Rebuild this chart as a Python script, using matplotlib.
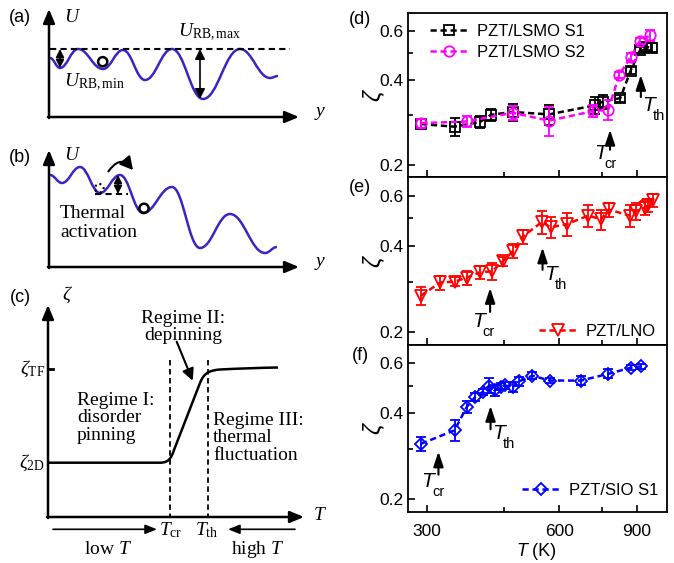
import matplotlib.pyplot as plt
from matplotlib.path import Path
from matplotlib.patches import PathPatch, Circle
from matplotlib.ticker import FixedLocator, FormatStrFormatter, NullFormatter

plt.rcParams['font.family'] = ['Liberation Sans', 'DejaVu Sans']
plt.rcParams['mathtext.fontset'] = 'custom'
plt.rcParams['mathtext.rm'] = 'Liberation Serif'
plt.rcParams['mathtext.it'] = 'Liberation Serif:italic'

# ---- measured roughness exponent vs temperature ----
T_s1 = [291, 347, 397, 420, 470, 569, 722, 753, 826, 872, 916, 945, 973]
z_s1 = [0.279, 0.273, 0.284, 0.301, 0.308, 0.302, 0.325, 0.335, 0.345, 0.432, 0.511, 0.525, 0.522]
e_s1 = [0.012, 0.02, 0.015, 0.014, 0.022, 0.025, 0.022, 0.02, 0.01, 0.012, 0.012, 0.015, 0.02]

T_s2 = [291, 370, 470, 569, 717, 776, 822, 873, 916, 966]
z_s2 = [0.281, 0.285, 0.306, 0.287, 0.310, 0.314, 0.418, 0.484, 0.552, 0.577]
e_s2 = [0.01, 0.012, 0.018, 0.035, 0.015, 0.025, 0.01, 0.015, 0.015, 0.025]

T_lno = [291, 322, 347, 370, 397, 422, 447, 472, 496, 548, 574, 624, 699, 747, 777, 868, 897, 938, 955, 979]
z_lno = [0.268, 0.298, 0.300, 0.310, 0.324, 0.326, 0.354, 0.385, 0.432, 0.485, 0.465, 0.477,
         0.511, 0.496, 0.537, 0.511, 0.530, 0.545, 0.555, 0.580]
e_lno = [0.019, 0.017, 0.011, 0.017, 0.017, 0.023, 0.013, 0.022, 0.024, 0.045, 0.04, 0.045,
         0.045, 0.04, 0.03, 0.045, 0.035, 0.03, 0.03, 0.03]

T_sio = [291, 347, 370, 387, 402, 416, 428, 443, 451, 470, 487, 521, 572, 672, 776, 872, 923]
z_sio = [0.312, 0.348, 0.421, 0.457, 0.475, 0.50, 0.481, 0.496, 0.501, 0.493, 0.518, 0.542,
         0.521, 0.521, 0.55, 0.578, 0.585]
e_sio = [0.018, 0.03, 0.02, 0.015, 0.012, 0.03, 0.02, 0.015, 0.015, 0.02, 0.02, 0.015,
         0.01, 0.02, 0.02, 0.012, 0.012]

# arrow positions (T, tip, tail) and label anchors for the crossover temperatures
tcr_marks = [(783, 0.266, 0.226, 743, 0.219), (418, 0.285, 0.235, 393, 0.217), (319, 0.293, 0.243, 302, 0.229)]
tth_marks = [(920, 0.417, 0.348, 957, 0.324), (550, 0.395, 0.330, 572, 0.318), (419, 0.424, 0.351, 437, 0.339)]

# ---- schematic energy landscapes (extrema of the sketched curves) ----
land_a_x = [50, 60, 78, 103, 123, 145, 172, 203, 240, 270, 278]
land_a_y = [58, 68, 49, 69, 50, 80, 49, 99, 49, 78, 76]
land_b_x = [50, 62, 80, 100, 120, 143, 172, 200, 230, 265, 277]
land_b_y = [175, 183, 167, 193, 175, 213, 187, 248, 214, 253, 247]

LANDSCAPE = '#3f22c2'

fig = plt.figure(figsize=(6.74, 5.63), dpi=100)

ov = fig.add_axes([0, 0, 1, 1])
ov.set_xlim(0, 674)
ov.set_ylim(563, 0)
ov.axis('off')


def landscape(xs, ys):
    verts = [(xs[0], ys[0])]
    codes = [Path.MOVETO]
    for i in range(1, len(xs)):
        d = (xs[i] - xs[i - 1]) * 0.4
        verts += [(xs[i - 1] + d, ys[i - 1]), (xs[i] - d, ys[i]), (xs[i], ys[i])]
        codes += [Path.CURVE4] * 3
    return Path(verts, codes)


def arrow(ax, x0, y0, x1, y1, lw=1.8, style='-|>,head_length=0.6,head_width=0.25', ms=14):
    ax.annotate('', xy=(x1, y1), xytext=(x0, y0),
                arrowprops=dict(arrowstyle=style, lw=lw, color='k', shrinkA=0, shrinkB=0,
                                mutation_scale=ms))


serif = dict(family='Liberation Serif', fontsize=14)

# (a)
ov.text(20, 18, '(a)', fontsize=13, ha='center', va='center')
arrow(ov, 49, 118, 49, 9)
arrow(ov, 48, 117, 299, 117)
ov.text(64, 17, '$U$', ha='left', va='center', **serif)
ov.text(314, 114, '$y$', ha='left', va='center', **serif)
ov.add_patch(PathPatch(landscape(land_a_x, land_a_y), fill=False, color=LANDSCAPE, lw=1.8))
ov.plot([50, 290], [49, 49], color='k', lw=1.5, dashes=(3, 2))
ov.add_patch(Circle((102.7, 61.7), 4.6, fill=False, lw=1.8, color='k'))
arrow(ov, 60, 49, 60, 68, lw=1.2, style='<|-|>,head_length=0.4,head_width=0.2', ms=12)
arrow(ov, 200, 49, 200, 99, lw=1.2, style='<|-|>,head_length=0.5,head_width=0.25', ms=12)
ov.text(178, 32, r'$U_{\rm RB,max}$', ha='left', va='center', **serif)
ov.text(64, 82, r'$U_{\rm RB,min}$', ha='left', va='center', **serif)

# (b)
ov.text(20, 158, '(b)', fontsize=13, ha='center', va='center')
arrow(ov, 49, 268, 49, 150)
arrow(ov, 48, 267, 299, 267)
ov.text(64, 156, '$U$', ha='left', va='center', **serif)
ov.text(314, 264, '$y$', ha='left', va='center', **serif)
ov.add_patch(PathPatch(landscape(land_b_x, land_b_y), fill=False, color=LANDSCAPE, lw=1.8))
ov.plot([95, 128], [194, 194], color='k', lw=1.5, dashes=(3, 2))
ov.add_patch(Circle((99.3, 188.3), 4.3, fill=False, lw=1.5, ls=':', color='k'))
ov.add_patch(Circle((144, 208.3), 4.6, fill=False, lw=1.8, color='k'))
arrow(ov, 118, 194, 118, 175, lw=1.2, style='<|-|>,head_length=0.4,head_width=0.2', ms=12)
# hop over the barrier: arc plus a head at its right end
hop = Path([(108, 172), (119, 156), (129, 165)], [Path.MOVETO, Path.CURVE3, Path.CURVE3])
ov.add_patch(PathPatch(hop, fill=False, lw=1.5, color='k'))
arrow(ov, 128, 164, 133, 170, lw=1.5, style='-|>,head_length=0.55,head_width=0.3', ms=14)
ov.text(60, 223, 'Thermal\nactivation', ha='left', va='center', linespacing=1.15, **serif)

# (c)
ov.text(20, 297, '(c)', fontsize=13, ha='center', va='center')
arrow(ov, 48, 518, 48, 305)
arrow(ov, 47, 517, 304, 517)
ov.text(62, 295, r'$\zeta$', ha='left', va='center', **serif)
ov.text(313, 516, '$T$', ha='left', va='center', **serif)
ov.plot([48, 53], [369.3, 369.3], color='k', lw=2)
ov.text(45, 369, r'$\zeta_{\rm TF}$', ha='right', va='center', **serif)
ov.text(45, 463, r'$\zeta_{\rm 2D}$', ha='right', va='center', **serif)
crossover = Path([(48, 462.7), (160, 462.7), (168, 462.7), (171, 459), (174, 450),
                  (200, 383), (204, 373), (209, 370.5), (220, 369.5),
                  (240, 368.5), (260, 367.8), (278, 367.5)],
                 [Path.MOVETO, Path.LINETO, Path.CURVE4, Path.CURVE4, Path.CURVE4,
                  Path.LINETO, Path.CURVE4, Path.CURVE4, Path.CURVE4,
                  Path.CURVE4, Path.CURVE4, Path.CURVE4])
ov.add_patch(PathPatch(crossover, fill=False, color='k', lw=1.8))
for xv in (170, 208.3):
    ov.plot([xv, xv], [360, 517], color='k', lw=1.3, dashes=(3, 2))
arrow(ov, 176.7, 341.7, 192.7, 380.7, lw=1.5, style='-|>,head_length=0.5,head_width=0.25')
ov.text(183, 327, 'Regime II:\ndepinning', ha='center', va='center', linespacing=1.0, **serif)
ov.text(77, 418, 'Regime I:\ndisorder\npinning', ha='left', va='center', linespacing=1.05, **serif)
ov.text(213, 438, 'Regime III:\nthermal\nfluctuation', ha='left', va='center', linespacing=1.05, **serif)
arrow(ov, 53, 529.3, 157, 529.3, lw=1.2, style='-|>,head_length=0.5,head_width=0.2')
arrow(ov, 295, 529.3, 228, 529.3, lw=1.2, style='-|>,head_length=0.5,head_width=0.2')
ov.text(159, 530, r'$T_{\rm cr}$', ha='left', va='center', **serif)
ov.text(195, 530, r'$T_{\rm th}$', ha='left', va='center', **serif)
ov.text(108, 550, r'low $T$', ha='center', va='center', **serif)
ov.text(258, 550, r'high $T$', ha='center', va='center', **serif)

# ---- right column: measured zeta(T) ----
ax_left, ax_w = 408 / 674, 259 / 674
tops = [12.7, 177.5, 345.0]
bots = [177.5, 345.0, 511.7]
axes = [fig.add_axes([ax_left, 1 - b / 563, ax_w, (b - t) / 563]) for t, b in zip(tops, bots)]

series = [
    [(T_s1, z_s1, e_s1, 'k', 's', 6.5, 'PZT/LSMO S1'), (T_s2, z_s2, e_s2, '#ff00ff', 'o', 7.5, 'PZT/LSMO S2')],
    [(T_lno, z_lno, e_lno, '#ff0000', 'v', 9, 'PZT/LNO')],
    [(T_sio, z_sio, e_sio, '#0000ff', 'D', 6.5, 'PZT/SIO S1')],
]
leg_loc = [('upper left', (0.085, 0.93)), ('lower right', (0.955, 0.035)), ('lower right', (0.965, 0.085))]

for i, ax in enumerate(axes):
    for T, z, e, c, m, ms, lab in series[i]:
        ax.errorbar(T, z, yerr=e, fmt='none', ecolor=c, elinewidth=1.3, capsize=3.8, capthick=1.3)
        ax.plot(T, z, color=c, ls='--', dashes=(2.5, 1.5), lw=1.8, marker=m, ms=ms,
                mfc='none', mec=c, mew=1.3, label=lab)
    ax.set_xscale('log')
    ax.set_yscale('log')
    ax.set_xlim(272, 1055)
    ax.set_ylim(0.18, 0.695)
    ax.xaxis.set_major_locator(FixedLocator([300, 600, 900]))
    ax.xaxis.set_minor_locator(FixedLocator([450, 750]))
    ax.xaxis.set_major_formatter(FormatStrFormatter('%d'))
    ax.xaxis.set_minor_formatter(NullFormatter())
    ax.yaxis.set_major_locator(FixedLocator([0.2, 0.4, 0.6]))
    ax.yaxis.set_minor_locator(FixedLocator([0.3, 0.5]))
    ax.yaxis.set_major_formatter(FormatStrFormatter('%.1f'))
    ax.yaxis.set_minor_formatter(NullFormatter())
    ax.tick_params(which='both', direction='in', labelsize=12.5, width=1.2)
    ax.tick_params(which='major', length=5)
    ax.tick_params(which='minor', length=3.5)
    ax.tick_params(axis='x', pad=9)
    ax.tick_params(axis='y', pad=3)
    if i < 2:
        ax.tick_params(axis='x', labelbottom=False)
    for sp in ax.spines.values():
        sp.set_linewidth(1.3)
    ax.set_ylabel('ζ', fontstyle='italic', fontsize=17)
    ax.yaxis.set_label_coords(-0.09, 0.5)
    loc, anchor = leg_loc[i]
    ax.legend(loc=loc, bbox_to_anchor=anchor, frameon=False, fontsize=12, numpoints=1,
              handlelength=2.3, handletextpad=0.5, labelspacing=0.35, borderaxespad=0, borderpad=0)

    for marks, sub in ((tcr_marks[i], 'cr'), (tth_marks[i], 'th')):
        tx, tip, tail, lx, ly = marks
        ax.annotate('', xy=(tx, tip), xytext=(tx, tail),
                    arrowprops=dict(arrowstyle='-|>,head_length=0.9,head_width=0.3', lw=1.5,
                                    color='k', shrinkA=0, shrinkB=0, mutation_scale=10))
        t = ax.text(lx, ly, 'T', fontstyle='italic', fontsize=15, ha='center', va='center')
        ax.annotate(sub, xy=(0.85, -0.05), xycoords=t, fontsize=10.5, ha='left', va='center')

for lab, y in (('(d)', 20), ('(e)', 188), ('(f)', 356)):
    ov.text(360, y, lab, fontsize=13, ha='center', va='center')

ov.text(527, 552, 'T', fontstyle='italic', fontsize=13, ha='right', va='center')
ov.text(527, 552, ' (K)', fontsize=13, ha='left', va='center')

fig.savefig('out.png', dpi=100)
